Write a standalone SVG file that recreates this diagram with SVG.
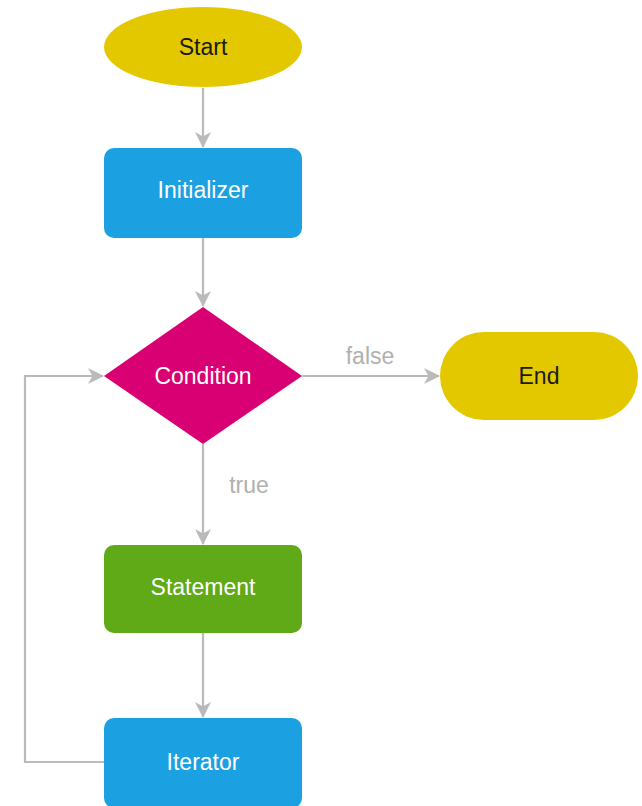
<svg xmlns="http://www.w3.org/2000/svg" width="642" height="806" viewBox="0 0 642 806">
  <style>
    .lbl { font-family: "Liberation Sans", Arial, sans-serif; font-size: 23px; text-anchor: middle; dominant-baseline: central; }
    .light { fill: #ffffff; }
    .dark { fill: #1a1a1a; }
    .edge { fill: none; stroke: #bababa; stroke-width: 2.2; }
    .elbl { font-family: "Liberation Sans", Arial, sans-serif; font-size: 23px; fill: #b0b0b0; text-anchor: middle; dominant-baseline: central; }
  </style>
  <defs>
    <marker id="arrow" viewBox="0 0 16 16" refX="15" refY="8" markerWidth="16" markerHeight="16" markerUnits="userSpaceOnUse" orient="auto">
      <path d="M0,0 L16,8 L0,16 L4.5,8 Z" fill="#bababa"/>
    </marker>
  </defs>
  <rect width="642" height="806" fill="#ffffff"/>

  <g id="connectors">
    <line class="edge" x1="203" y1="88" x2="203" y2="147" marker-end="url(#arrow)"/>
    <line class="edge" x1="203" y1="238" x2="203" y2="306" marker-end="url(#arrow)"/>
    <line class="edge" x1="302" y1="376" x2="439" y2="376" marker-end="url(#arrow)"/>
    <line class="edge" x1="203" y1="444" x2="203" y2="544" marker-end="url(#arrow)"/>
    <line class="edge" x1="203" y1="633" x2="203" y2="717" marker-end="url(#arrow)"/>
    <polyline class="edge" points="104,762 25,762 25,376 103,376" marker-end="url(#arrow)"/>
    <text class="elbl" x="370" y="356">false</text>
    <text class="elbl" x="249" y="485">true</text>
  </g>

  <g id="start">
    <ellipse cx="203" cy="47" rx="99" ry="40" fill="#e3c800"/>
    <text class="lbl dark" x="203" y="47">Start</text>
  </g>
  <g id="initializer">
    <rect x="104" y="148" width="198" height="90" rx="10" fill="#1ba1e2"/>
    <text class="lbl light" x="203" y="190">Initializer</text>
  </g>
  <g id="condition">
    <polygon points="203,307 302,376 203,444 104,376" fill="#d80073"/>
    <text class="lbl light" x="203" y="376">Condition</text>
  </g>
  <g id="end">
    <rect x="440" y="332" width="198" height="88" rx="44" fill="#e3c800"/>
    <text class="lbl dark" x="539" y="376">End</text>
  </g>
  <g id="statement">
    <rect x="104" y="545" width="198" height="88" rx="10" fill="#60a917"/>
    <text class="lbl light" x="203" y="587">Statement</text>
  </g>
  <g id="iterator">
    <rect x="104" y="718" width="198" height="90" rx="10" fill="#1ba1e2"/>
    <text class="lbl light" x="203" y="762">Iterator</text>
  </g>
</svg>
